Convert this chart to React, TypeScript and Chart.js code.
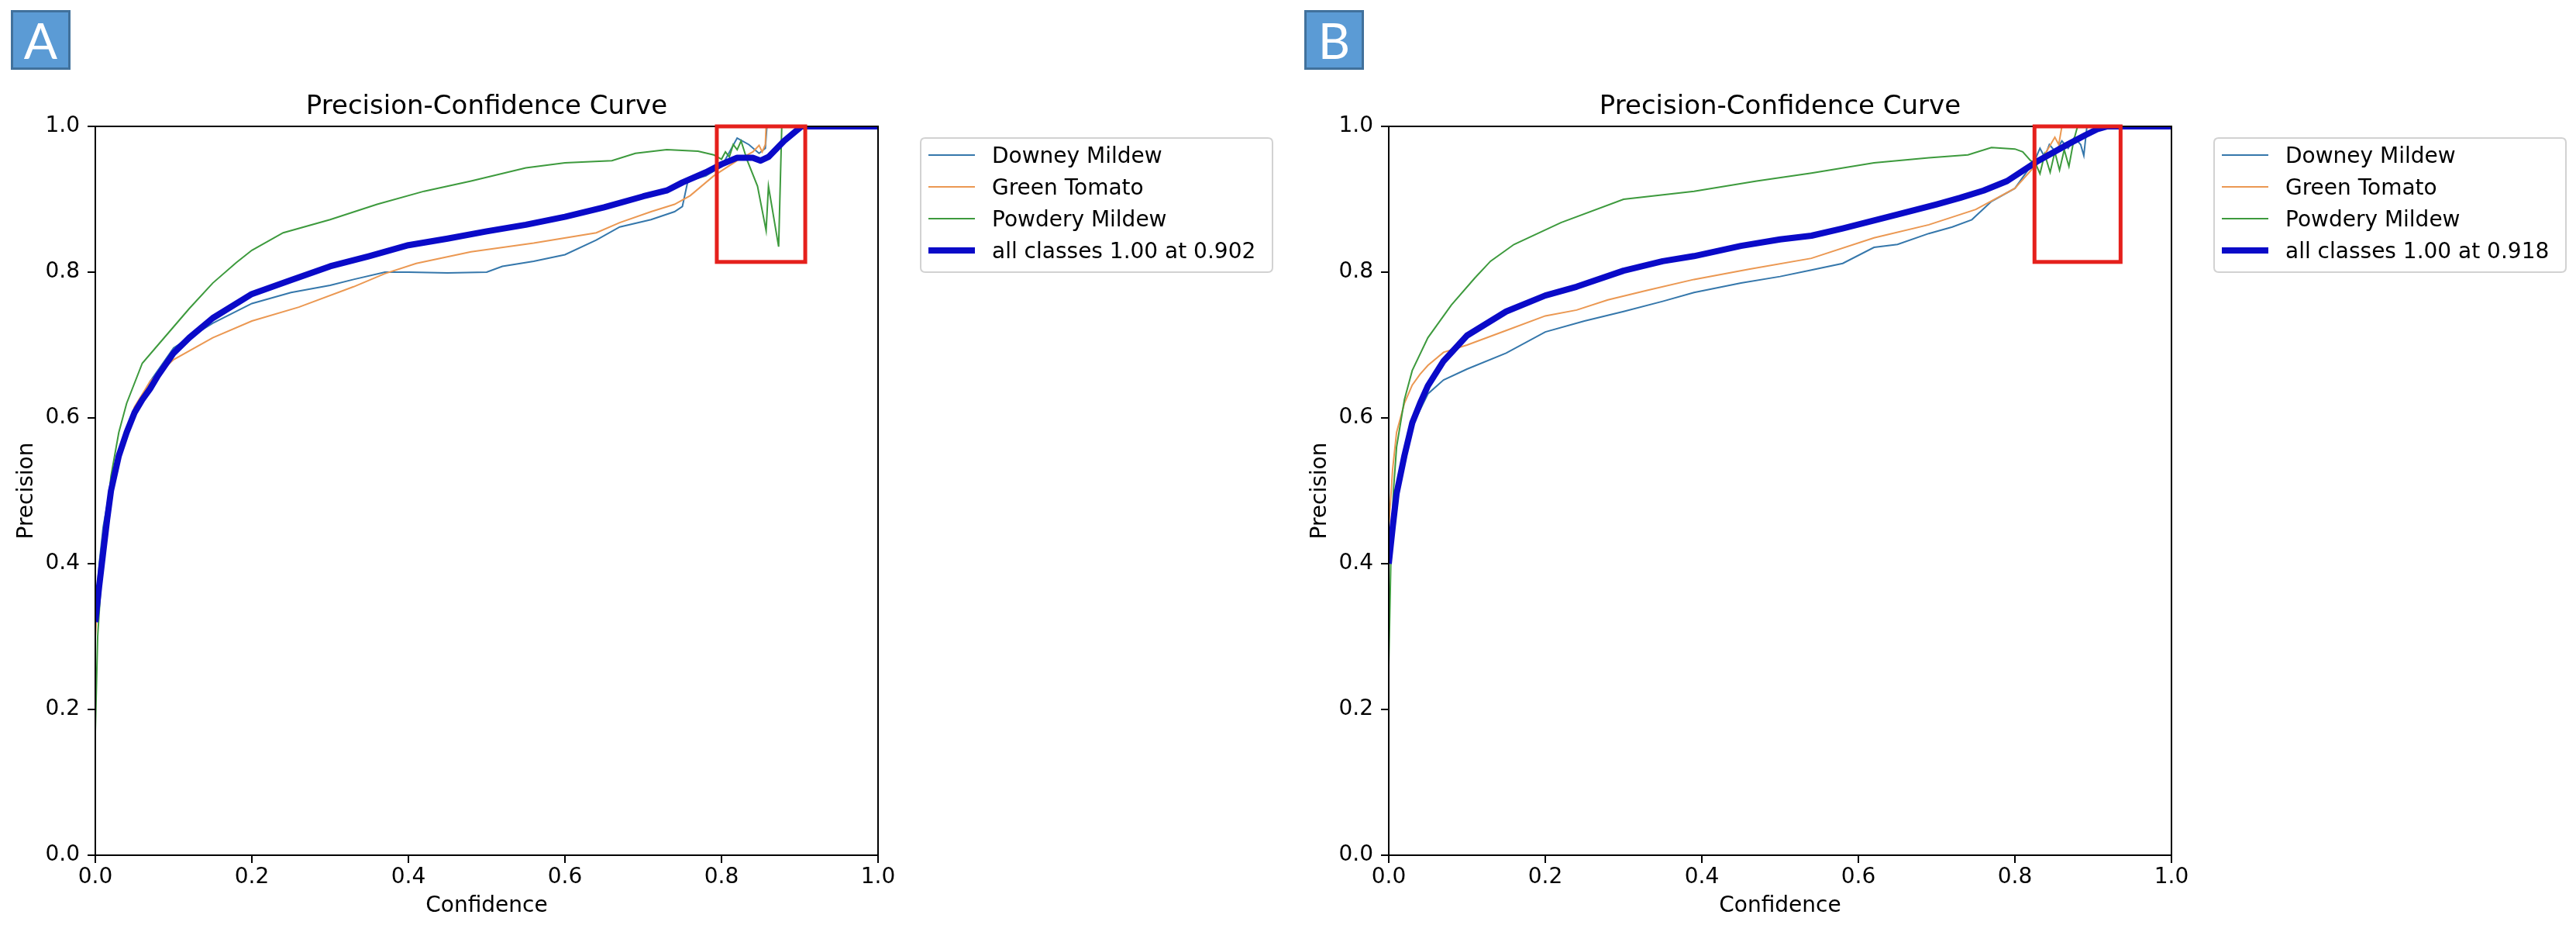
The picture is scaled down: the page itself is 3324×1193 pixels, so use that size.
import React, { useEffect, useRef } from "react";
import { Chart, registerables } from "chart.js";

Chart.register(...registerables);

// ---------- shared ----------
const xTicks = [0, 0.2, 0.4, 0.6, 0.8, 1.0];
const yTicks = [0, 0.2, 0.4, 0.6, 0.8, 1.0];
const chartTitle = "Precision-Confidence Curve";
const xAxisLabel = "Confidence";
const yAxisLabel = "Precision";
const seriesNames = ["Downey Mildew", "Green Tomato", "Powdery Mildew"];
const seriesColors = ["#3577ab", "#eb9852", "#3d9a3d"];
const allClassesColor = "#0a0ac8";

// ---------- panel A ----------
const aConfDowney = [0, 0.005, 0.01, 0.02, 0.03, 0.05, 0.07, 0.1, 0.12, 0.15, 0.2, 0.25, 0.3, 0.33, 0.37, 0.4, 0.45, 0.5, 0.52, 0.56, 0.6, 0.64, 0.67, 0.71, 0.74, 0.75, 0.757, 0.78, 0.8, 0.82, 0.835, 0.848, 0.856, 0.858, 1.0];
const aDowney = [0.33, 0.4, 0.45, 0.51, 0.55, 0.61, 0.65, 0.696, 0.71, 0.73, 0.757, 0.772, 0.782, 0.79, 0.8, 0.8, 0.799, 0.8, 0.808, 0.815, 0.824, 0.844, 0.862, 0.872, 0.883, 0.89, 0.925, 0.932, 0.945, 0.984, 0.975, 0.963, 0.97, 1.0, 1.0];
const aConfTomato = [0, 0.005, 0.01, 0.02, 0.03, 0.05, 0.07, 0.1, 0.15, 0.2, 0.26, 0.33, 0.37, 0.41, 0.48, 0.56, 0.64, 0.67, 0.71, 0.74, 0.76, 0.79, 0.82, 0.84, 0.848, 0.852, 0.856, 0.857, 1.0];
const aTomato = [0.3, 0.38, 0.44, 0.5, 0.55, 0.615, 0.65, 0.68, 0.71, 0.733, 0.752, 0.78, 0.798, 0.812, 0.828, 0.84, 0.854, 0.868, 0.883, 0.893, 0.905, 0.932, 0.953, 0.965, 0.974, 0.965, 0.975, 1.0, 1.0];
const aConfPowdery = [0, 0.003, 0.01, 0.02, 0.03, 0.04, 0.06, 0.08, 0.1, 0.12, 0.15, 0.18, 0.2, 0.24, 0.3, 0.36, 0.42, 0.48, 0.55, 0.6, 0.66, 0.69, 0.73, 0.77, 0.79, 0.8, 0.805, 0.81, 0.815, 0.82, 0.825, 0.833, 0.846, 0.857, 0.86, 0.873, 0.877, 1.0];
const aPowdery = [0.17, 0.3, 0.42, 0.52, 0.58, 0.62, 0.675, 0.7, 0.725, 0.75, 0.785, 0.813, 0.83, 0.854, 0.872, 0.893, 0.911, 0.925, 0.943, 0.95, 0.953, 0.963, 0.968, 0.966, 0.961, 0.955, 0.965, 0.958, 0.975, 0.968, 0.98, 0.953, 0.918, 0.857, 0.918, 0.835, 1.0, 1.0];
const aConfAll = [0, 0.005, 0.01, 0.015, 0.02, 0.03, 0.04, 0.05, 0.06, 0.07, 0.08, 0.1, 0.12, 0.15, 0.2, 0.25, 0.3, 0.35, 0.4, 0.45, 0.5, 0.55, 0.6, 0.65, 0.7, 0.73, 0.75, 0.78, 0.8, 0.82, 0.84, 0.85, 0.86, 0.88, 0.9, 0.902, 1.0];
const aAll = [0.32, 0.37, 0.415, 0.46, 0.5, 0.548, 0.58, 0.607, 0.625, 0.64, 0.658, 0.689, 0.71, 0.737, 0.77, 0.789, 0.808, 0.822, 0.837, 0.846, 0.856, 0.865, 0.876, 0.889, 0.904, 0.912, 0.923, 0.937, 0.948, 0.957, 0.957, 0.953, 0.958, 0.98, 0.998, 1.0, 1.0];
const aAllLabel = "all classes 1.00 at 0.902";
const aBoxConf = [0.794, 0.907];
const aBoxPrec = [0.814, 1.0];

// ---------- panel B ----------
const bConfDowney = [0, 0.005, 0.01, 0.02, 0.03, 0.035, 0.05, 0.07, 0.1, 0.15, 0.2, 0.25, 0.3, 0.35, 0.39, 0.45, 0.5, 0.54, 0.58, 0.62, 0.65, 0.69, 0.72, 0.745, 0.77, 0.8, 0.82, 0.826, 0.832, 0.838, 0.844, 0.852, 0.86, 0.868, 0.876, 0.884, 0.888, 0.892, 1.0];
const bDowney = [0.4, 0.45, 0.5, 0.55, 0.59, 0.6, 0.633, 0.652, 0.667, 0.689, 0.718, 0.733, 0.746, 0.76, 0.772, 0.785, 0.794, 0.803, 0.812, 0.834, 0.838, 0.853, 0.862, 0.872, 0.897, 0.915, 0.945, 0.955, 0.97, 0.958, 0.975, 0.965, 0.98, 0.97, 0.985, 0.975, 0.96, 1.0, 1.0];
const bConfTomato = [0, 0.005, 0.01, 0.02, 0.03, 0.04, 0.05, 0.07, 0.1, 0.15, 0.2, 0.24, 0.28, 0.33, 0.39, 0.46, 0.54, 0.62, 0.69, 0.75, 0.8, 0.82, 0.84, 0.851, 0.856, 0.86, 1.0];
const bTomato = [0.45, 0.53, 0.58, 0.62, 0.645, 0.66, 0.672, 0.69, 0.7, 0.72, 0.74, 0.748, 0.762, 0.775, 0.79, 0.804, 0.819, 0.847, 0.865, 0.886, 0.915, 0.939, 0.965, 0.985, 0.975, 1.0, 1.0];
const bConfPowdery = [0, 0.003, 0.006, 0.01, 0.02, 0.03, 0.05, 0.08, 0.11, 0.13, 0.16, 0.22, 0.3, 0.39, 0.47, 0.54, 0.62, 0.69, 0.74, 0.77, 0.8, 0.81, 0.82, 0.826, 0.832, 0.838, 0.845, 0.851, 0.857, 0.863, 0.869, 0.875, 0.88, 1.0];
const bPowdery = [0.26, 0.42, 0.5, 0.56, 0.625, 0.665, 0.71, 0.755, 0.792, 0.815, 0.838, 0.868, 0.9, 0.911, 0.925, 0.936, 0.95, 0.957, 0.961, 0.971, 0.969, 0.965, 0.953, 0.95, 0.935, 0.962, 0.937, 0.965, 0.94, 0.968, 0.945, 0.98, 1.0, 1.0];
const bConfAll = [0, 0.005, 0.01, 0.02, 0.03, 0.04, 0.05, 0.07, 0.1, 0.15, 0.2, 0.24, 0.3, 0.35, 0.39, 0.45, 0.5, 0.54, 0.58, 0.65, 0.7, 0.73, 0.76, 0.79, 0.83, 0.867, 0.89, 0.905, 0.918, 1.0];
const bAll = [0.4, 0.45, 0.496, 0.548, 0.593, 0.62, 0.644, 0.678, 0.713, 0.746, 0.768, 0.78, 0.802, 0.815, 0.822, 0.836, 0.845, 0.85, 0.86, 0.879, 0.893, 0.902, 0.912, 0.925, 0.953, 0.975, 0.988, 0.996, 1.0, 1.0];
const bAllLabel = "all classes 1.00 at 0.918";
const bBoxConf = [0.825, 0.935];
const bBoxPrec = [0.814, 1.0];

const FONT = '"DejaVu Sans", "Liberation Sans", sans-serif';

const pts = (xs: number[], ys: number[]) => xs.map((x, i) => ({ x, y: ys[i] }));

const decorPlugin = {
  id: "decor",
  afterDatasetsDraw(chart: any, _args: any, opts: any) {
    const { ctx, chartArea: ca, scales } = chart;
    ctx.save();
    ctx.strokeStyle = "#000";
    ctx.lineWidth = 2;
    ctx.strokeRect(ca.left, ca.top, ca.right - ca.left, ca.bottom - ca.top);
    const x0 = scales.x.getPixelForValue(opts.boxConf[0]);
    const x1 = scales.x.getPixelForValue(opts.boxConf[1]);
    const y0 = scales.y.getPixelForValue(opts.boxPrec[1]);
    const y1 = scales.y.getPixelForValue(opts.boxPrec[0]);
    ctx.strokeStyle = "#e5201c";
    ctx.lineWidth = 5;
    ctx.strokeRect(x0, y0, x1 - x0, y1 - y0);
    ctx.restore();
  },
  afterDraw(chart: any, _args: any, opts: any) {
    const { ctx, chartArea: ca } = chart;
    ctx.save();
    // title
    ctx.fillStyle = "#000";
    ctx.font = `34px ${FONT}`;
    ctx.textAlign = "center";
    ctx.textBaseline = "alphabetic";
    ctx.fillText(opts.title, (ca.left + ca.right) / 2, 147);
    // legend
    const lx = ca.right + 55;
    const ly = 178;
    const lw = 454;
    const lh = 173;
    const r = 6;
    ctx.beginPath();
    ctx.moveTo(lx + r, ly);
    ctx.lineTo(lx + lw - r, ly);
    ctx.quadraticCurveTo(lx + lw, ly, lx + lw, ly + r);
    ctx.lineTo(lx + lw, ly + lh - r);
    ctx.quadraticCurveTo(lx + lw, ly + lh, lx + lw - r, ly + lh);
    ctx.lineTo(lx + r, ly + lh);
    ctx.quadraticCurveTo(lx, ly + lh, lx, ly + lh - r);
    ctx.lineTo(lx, ly + r);
    ctx.quadraticCurveTo(lx, ly, lx + r, ly);
    ctx.closePath();
    ctx.fillStyle = "rgba(255,255,255,0.85)";
    ctx.fill();
    ctx.strokeStyle = "#d2d2d2";
    ctx.lineWidth = 2;
    ctx.stroke();
    ctx.font = `28px ${FONT}`;
    ctx.textAlign = "left";
    chart.data.datasets.forEach((ds: any, i: number) => {
      const cy = 200 + i * 41;
      ctx.beginPath();
      ctx.strokeStyle = ds.borderColor;
      ctx.lineWidth = ds.borderWidth;
      ctx.moveTo(lx + 10, cy);
      ctx.lineTo(lx + 70, cy);
      ctx.stroke();
      ctx.fillStyle = "#000";
      ctx.fillText(ds.label, lx + 92, cy + 10);
    });
    ctx.restore();
  },
};

type PanelProps = {
  width: number;
  left: number;
  series: { x: number[]; y: number[] }[];
  all: { x: number[]; y: number[]; label: string };
  boxConf: number[];
  boxPrec: number[];
};

function Panel({ width, left, series, all, boxConf, boxPrec }: PanelProps) {
  const ref = useRef<HTMLCanvasElement | null>(null);
  useEffect(() => {
    if (!ref.current) return;
    const thin = series.map((s, i) => ({
      label: seriesNames[i],
      data: pts(s.x, s.y),
      borderColor: seriesColors[i],
      backgroundColor: seriesColors[i],
      borderWidth: 2,
      pointRadius: 0,
      tension: 0,
      fill: false,
      order: 3 - i,
    }));
    const thick = {
      label: all.label,
      data: pts(all.x, all.y),
      borderColor: allClassesColor,
      backgroundColor: allClassesColor,
      borderWidth: 8,
      pointRadius: 0,
      tension: 0,
      fill: false,
      borderJoinStyle: "round" as const,
      order: 0,
    };
    const chart = new Chart(ref.current, {
      type: "line",
      data: { datasets: [...thin, thick] as any },
      plugins: [decorPlugin as any],
      options: {
        animation: false,
        responsive: false,
        maintainAspectRatio: false,
        devicePixelRatio: 1,
        layout: { padding: { left: 18, top: 163, right: width - 1133, bottom: 7 } },
        plugins: {
          legend: { display: false },
          title: { display: false },
          tooltip: { enabled: false },
          decor: { title: chartTitle, boxConf, boxPrec },
        } as any,
        scales: {
          x: {
            type: "linear",
            min: 0,
            max: 1,
            afterBuildTicks: (s: any) => {
              s.ticks = xTicks.map((v) => ({ value: v }));
            },
            afterFit: (s: any) => {
              s.height = 83;
            },
            grid: { display: true, drawOnChartArea: false, drawTicks: true, tickLength: 10, color: "#000", lineWidth: 2 },
            border: { display: false },
            ticks: {
              padding: 2,
              color: "#000",
              font: { family: FONT, size: 28 },
              maxRotation: 0,
              autoSkip: false,
              callback: (v: any) => Number(v).toFixed(1),
            },
            title: { display: true, text: xAxisLabel, color: "#000", font: { family: FONT, size: 28 }, padding: 0 },
          },
          y: {
            type: "linear",
            min: 0,
            max: 1,
            afterBuildTicks: (s: any) => {
              s.ticks = yTicks.map((v) => ({ value: v }));
            },
            afterFit: (s: any) => {
              s.width = 105;
            },
            grid: { display: true, drawOnChartArea: false, drawTicks: true, tickLength: 10, color: "#000", lineWidth: 2 },
            border: { display: false },
            ticks: {
              padding: 10,
              color: "#000",
              font: { family: FONT, size: 28 },
              autoSkip: false,
              callback: (v: any) => Number(v).toFixed(1),
            },
            title: { display: true, text: yAxisLabel, color: "#000", font: { family: FONT, size: 28 }, padding: 0 },
          },
        },
      },
    });
    return () => chart.destroy();
  }, []);
  return (
    <canvas
      ref={ref}
      width={width}
      height={1193}
      style={{ position: "absolute", left, top: 0, width, height: 1193 }}
    />
  );
}

const badgeStyle = (left: number): React.CSSProperties => ({
  position: "absolute",
  left,
  top: 13,
  width: 77,
  height: 77,
  boxSizing: "border-box",
  background: "#5B9BD5",
  border: "3px solid #41719C",
  color: "#fff",
  fontFamily: "Lato, 'Open Sans', sans-serif",
  fontSize: 64,
  lineHeight: "71px",
  textAlign: "center",
});

export default function App() {
  return (
    <div style={{ position: "absolute", left: 0, top: 0, width: 3324, height: 1193, background: "#fff", overflow: "hidden" }}>
      <Panel
        width={1669}
        left={0}
        series={[
          { x: aConfDowney, y: aDowney },
          { x: aConfTomato, y: aTomato },
          { x: aConfPowdery, y: aPowdery },
        ]}
        all={{ x: aConfAll, y: aAll, label: aAllLabel }}
        boxConf={aBoxConf}
        boxPrec={aBoxPrec}
      />
      <Panel
        width={1655}
        left={1669}
        series={[
          { x: bConfDowney, y: bDowney },
          { x: bConfTomato, y: bTomato },
          { x: bConfPowdery, y: bPowdery },
        ]}
        all={{ x: bConfAll, y: bAll, label: bAllLabel }}
        boxConf={bBoxConf}
        boxPrec={bBoxPrec}
      />
      <div style={badgeStyle(14)}>A</div>
      <div style={badgeStyle(1683)}>B</div>
    </div>
  );
}
